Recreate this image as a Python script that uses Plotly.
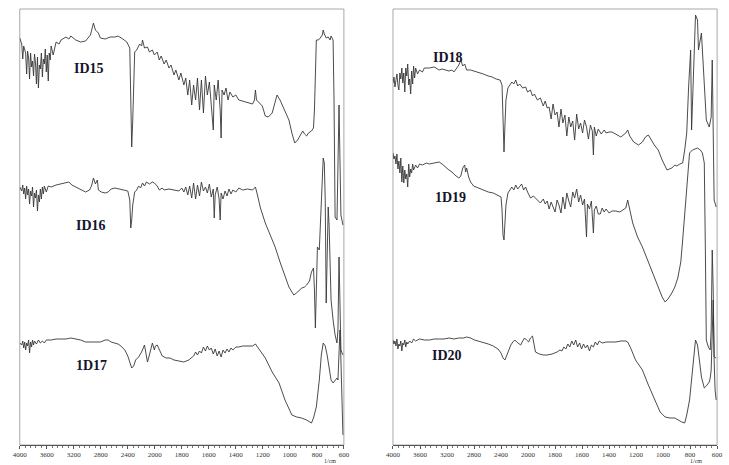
import numpy as np
import plotly.graph_objects as go

# ---------------- data (wavenumber in 1/cm, transmittance in arbitrary offset units) ----------------
tick_wn = [4000, 3600, 3200, 2800, 2400, 2000, 1800, 1600, 1400, 1200, 1000, 800, 600]
tick_labels = ["4000", "3600", "3200", "2800", "2400", "2000", "1800", "1600", "1400", "1200", "1000", "800", "600"]

id15_wn = [4000, 3971, 3956, 3942, 3913, 3898, 3884, 3869, 3855, 3840,
           3825, 3811, 3796, 3782, 3767, 3753, 3738, 3724, 3709, 3695,
           3680, 3665, 3651, 3636, 3622, 3607, 3593, 3578, 3564, 3549,
           3535, 3505, 3462, 3418, 3389, 3345, 3316, 3273, 3244, 3171,
           3098, 3025, 2953, 2909, 2880, 2836, 2807, 2735, 2662, 2589,
           2545, 2473, 2415, 2371, 2356, 2342, 2327, 2313, 2298, 2269,
           2225, 2196, 2182, 2153, 2109, 2080, 2036, 2007, 1982, 1967,
           1953, 1931, 1916, 1895, 1880, 1858, 1844, 1822, 1807, 1785,
           1771, 1756, 1742, 1727, 1713, 1698, 1684, 1669, 1655, 1640,
           1625, 1611, 1596, 1582, 1567, 1560, 1545, 1531, 1516, 1509,
           1502, 1487, 1473, 1458, 1444, 1422, 1400, 1378, 1349, 1313,
           1276, 1262, 1255, 1247, 1225, 1204, 1182, 1160, 1131, 1109,
           1095, 1073, 1036, 1022, 1007, 985, 964, 942, 920, 905,
           891, 876, 862, 840, 825, 818, 804, 789, 775, 760,
           753, 745, 731, 716, 702, 695, 680, 673, 665, 651,
           636, 622, 607]
id15_t = [407, 401, 386, 399, 392, 371, 394, 387, 366, 392,
          378, 384, 369, 391, 382, 361, 388, 357, 380, 376,
          392, 368, 386, 381, 396, 373, 390, 364, 392, 385,
          399, 390, 403, 401, 405, 407, 408, 406, 409, 405,
          403, 404, 410, 422, 415, 412, 407, 406, 408, 408,
          409, 406, 403, 397, 355, 298, 325, 375, 393, 395,
          401, 399, 405, 397, 398, 393, 395, 390, 393, 385,
          389, 381, 385, 377, 380, 370, 375, 365, 372, 360,
          367, 350, 365, 340, 360, 345, 367, 335, 365, 332,
          369, 350, 363, 340, 315, 360, 345, 365, 335, 307,
          355, 350, 357, 345, 353, 348, 350, 345, 344, 342,
          341, 345, 355, 345, 342, 339, 329, 328, 332, 342,
          350, 345, 334, 331, 325, 312, 302, 305, 310, 314,
          311, 309, 312, 314, 317, 335, 405, 405, 407, 410,
          415, 411, 407, 408, 405, 409, 405, 345, 228, 225,
          340, 230, 220]

id16_wn = [4000, 3971, 3956, 3942, 3927, 3913, 3898, 3884, 3869, 3855,
           3840, 3825, 3811, 3796, 3782, 3767, 3753, 3738, 3724, 3709,
           3695, 3680, 3665, 3651, 3636, 3607, 3578, 3535, 3462, 3389,
           3316, 3273, 3229, 3171, 3098, 3025, 2967, 2938, 2909, 2880,
           2851, 2836, 2793, 2735, 2691, 2647, 2589, 2516, 2444, 2400,
           2371, 2356, 2342, 2327, 2298, 2269, 2240, 2211, 2182, 2153,
           2124, 2080, 2036, 2007, 1982, 1967, 1945, 1931, 1895, 1858,
           1822, 1800, 1785, 1771, 1756, 1742, 1727, 1713, 1698, 1684,
           1669, 1655, 1640, 1625, 1611, 1596, 1582, 1567, 1560, 1553,
           1538, 1524, 1516, 1509, 1495, 1480, 1465, 1451, 1436, 1422,
           1400, 1378, 1349, 1313, 1276, 1262, 1255, 1240, 1218, 1182,
           1145, 1109, 1073, 1036, 1007, 971, 942, 913, 891, 876,
           855, 840, 825, 818, 811, 804, 796, 782, 767, 753,
           745, 738, 731, 724, 716, 709, 702, 695, 680, 665,
           651, 644, 636, 629, 622, 607]
id16_t = [258, 254, 260, 251, 257, 246, 259, 250, 256, 241,
          254, 249, 258, 238, 252, 247, 255, 234, 250, 243,
          256, 246, 258, 251, 259, 253, 259, 258, 260, 261,
          262, 263, 260, 258, 256, 253, 255, 259, 267, 261,
          265, 255, 253, 252, 253, 256, 257, 256, 255, 254,
          245, 217, 225, 240, 253, 255, 259, 257, 262, 259,
          263, 261, 263, 262, 259, 255, 257, 255, 256, 255,
          254, 257, 253, 258, 250, 259, 247, 262, 246, 260,
          249, 263, 254, 258, 252, 261, 248, 256, 227, 250,
          258, 246, 225, 252, 246, 254, 249, 256, 251, 255,
          253, 257, 255, 256, 255, 257, 258, 250, 237, 222,
          210, 198, 183, 168, 158, 150, 153, 157, 158, 160,
          164, 173, 177, 155, 117, 155, 198, 195, 245, 287,
          282, 245, 142, 195, 238, 218, 185, 145, 125, 110,
          102, 115, 188, 145, 95, 90]

id17_wn = [4000, 3971, 3956, 3942, 3927, 3913, 3898, 3884, 3869, 3855,
           3840, 3825, 3811, 3796, 3782, 3753, 3724, 3695, 3665, 3636,
           3607, 3535, 3462, 3389, 3316, 3244, 3171, 3098, 3025, 2953,
           2880, 2807, 2735, 2691, 2647, 2589, 2545, 2502, 2444, 2400,
           2371, 2342, 2313, 2284, 2240, 2196, 2153, 2138, 2109, 2080,
           2051, 2036, 2007, 1996, 1982, 1967, 1945, 1916, 1887, 1858,
           1822, 1785, 1749, 1727, 1713, 1698, 1684, 1669, 1655, 1640,
           1625, 1611, 1596, 1582, 1567, 1553, 1538, 1524, 1509, 1495,
           1480, 1465, 1451, 1436, 1422, 1400, 1378, 1349, 1313, 1276,
           1255, 1240, 1218, 1182, 1131, 1080, 1036, 985, 949, 913,
           876, 840, 825, 804, 782, 767, 753, 738, 724, 709,
           695, 680, 665, 651, 644, 636, 629, 622, 615, 607]
id17_t = [102, 100, 104, 97, 103, 95, 102, 99, 105, 92,
          103, 98, 105, 100, 104, 101, 105, 102, 104, 102,
          105, 105, 106, 106, 106, 107, 106, 105, 103, 103,
          103, 103, 105, 105, 103, 102, 101, 99, 95, 89,
          83, 77, 79, 85, 88, 93, 100, 93, 83, 90,
          97, 102, 95, 99, 100, 95, 89, 87, 87, 85,
          84, 83, 85, 87, 89, 93, 90, 94, 92, 98,
          94, 99, 95, 97, 91, 96, 89, 94, 88, 95,
          92, 96, 93, 97, 95, 98, 98, 99, 99, 99,
          101, 98, 93, 87, 73, 62, 45, 30, 28, 27,
          25, 22, 27, 38, 65, 90, 102, 99, 90, 77,
          65, 62, 65, 67, 65, 100, 115, 85, 45, 10]

id18_wn = [4000, 3985, 3971, 3956, 3942, 3927, 3913, 3898, 3884, 3869,
           3855, 3840, 3825, 3811, 3796, 3782, 3767, 3753, 3738, 3724,
           3709, 3695, 3680, 3665, 3636, 3607, 3564, 3535, 3462, 3389,
           3316, 3273, 3215, 3171, 3127, 3098, 3055, 3025, 2996, 2967,
           2938, 2909, 2851, 2793, 2735, 2662, 2589, 2531, 2473, 2415,
           2385, 2371, 2356, 2342, 2327, 2298, 2269, 2240, 2211, 2182,
           2153, 2124, 2080, 2036, 2007, 1982, 1967, 1953, 1931, 1909,
           1887, 1873, 1858, 1844, 1829, 1815, 1800, 1785, 1771, 1756,
           1742, 1727, 1713, 1698, 1684, 1669, 1655, 1640, 1625, 1611,
           1596, 1582, 1567, 1553, 1538, 1524, 1516, 1509, 1495, 1480,
           1458, 1436, 1422, 1400, 1378, 1349, 1313, 1276, 1262, 1247,
           1218, 1182, 1153, 1131, 1109, 1087, 1065, 1036, 1007, 971,
           935, 913, 898, 876, 855, 840, 825, 811, 796, 789,
           775, 760, 745, 738, 716, 702, 680, 658, 644, 636,
           622, 607]
id18_t = [362, 368, 358, 366, 371, 360, 355, 372, 366, 377,
          362, 372, 353, 377, 369, 381, 360, 366, 351, 374,
          361, 379, 367, 377, 371, 375, 373, 377, 377, 378,
          375, 376, 375, 374, 375, 373, 377, 380, 385, 379,
          381, 375, 375, 374, 373, 371, 369, 368, 366, 365,
          360, 325, 293, 320, 345, 357, 360, 363, 361, 365,
          359, 361, 357, 358, 353, 355, 349, 351, 345, 347,
          339, 344, 337, 338, 326, 341, 330, 333, 318, 336,
          322, 330, 309, 328, 318, 324, 305, 331, 316, 322,
          312, 325, 318, 306, 320, 314, 290, 318, 309, 316,
          311, 315, 312, 313, 313, 311, 308, 312, 315, 309,
          303, 300, 303, 308, 310, 305, 300, 295, 285, 275,
          277, 280, 279, 281, 282, 295, 312, 358, 395, 315,
          362, 430, 425, 395, 412, 378, 325, 318, 328, 385,
          245, 238]

id19_wn = [4000, 3985, 3971, 3956, 3942, 3927, 3913, 3898, 3884, 3869,
           3855, 3840, 3825, 3811, 3796, 3782, 3767, 3753, 3738, 3724,
           3709, 3695, 3665, 3636, 3607, 3564, 3505, 3462, 3389, 3316,
           3273, 3229, 3171, 3127, 3084, 3025, 2996, 2967, 2938, 2924,
           2909, 2880, 2851, 2807, 2735, 2662, 2589, 2516, 2444, 2400,
           2385, 2371, 2356, 2342, 2327, 2298, 2269, 2240, 2211, 2182,
           2153, 2124, 2095, 2065, 2036, 2007, 1982, 1960, 1931, 1909,
           1887, 1873, 1858, 1844, 1829, 1815, 1800, 1785, 1771, 1756,
           1742, 1727, 1713, 1698, 1684, 1669, 1655, 1640, 1625, 1611,
           1596, 1582, 1567, 1560, 1545, 1531, 1516, 1509, 1495, 1480,
           1465, 1451, 1436, 1422, 1400, 1378, 1349, 1320, 1298, 1276,
           1262, 1247, 1225, 1189, 1153, 1109, 1073, 1036, 1007, 985,
           964, 935, 913, 891, 869, 855, 840, 825, 811, 804,
           782, 760, 745, 724, 709, 702, 695, 687, 680, 665,
           651, 644, 636, 629, 622, 607]
id19_t = [292, 286, 289, 281, 291, 276, 284, 272, 287, 263,
          279, 262, 275, 266, 271, 258, 281, 268, 276, 272,
          281, 275, 280, 277, 281, 280, 282, 281, 282, 283,
          281, 278, 275, 273, 270, 267, 269, 277, 280, 273,
          277, 268, 263, 259, 257, 255, 253, 252, 250, 248,
          235, 210, 205, 220, 240, 252, 255, 258, 255, 260,
          256, 259, 261, 255, 258, 253, 247, 249, 245, 242,
          246, 241, 244, 236, 243, 238, 233, 245, 240, 232,
          248, 236, 252, 244, 238, 253, 247, 256, 243, 250,
          240, 246, 208, 241, 236, 244, 212, 235, 239, 231,
          231, 237, 233, 236, 232, 234, 234, 233, 235, 237,
          245, 235, 222, 208, 198, 183, 170, 158, 148, 143,
          146, 152, 158, 167, 183, 205, 230, 255, 280, 292,
          295, 296, 297, 295, 292, 287, 282, 195, 105, 98,
          95, 115, 195, 155, 88, 87]

id20_wn = [4000, 3985, 3971, 3956, 3942, 3927, 3913, 3898, 3884, 3869,
           3855, 3840, 3825, 3811, 3796, 3782, 3753, 3724, 3695, 3665,
           3636, 3607, 3535, 3462, 3389, 3316, 3244, 3171, 3098, 3025,
           2953, 2909, 2851, 2793, 2735, 2662, 2589, 2516, 2444, 2400,
           2371, 2342, 2313, 2284, 2255, 2225, 2196, 2167, 2138, 2109,
           2080, 2051, 2022, 1996, 1982, 1967, 1945, 1916, 1887, 1858,
           1822, 1785, 1764, 1749, 1735, 1720, 1705, 1691, 1676, 1662,
           1647, 1633, 1618, 1604, 1589, 1575, 1560, 1545, 1531, 1516,
           1502, 1487, 1473, 1451, 1422, 1385, 1349, 1313, 1276, 1262,
           1240, 1204, 1153, 1109, 1058, 1022, 985, 949, 913, 891,
           862, 840, 825, 804, 789, 775, 760, 745, 731, 716,
           695, 680, 658, 651, 644, 636, 629, 622, 615, 607]
id20_t = [105, 101, 104, 99, 106, 96, 101, 99, 104, 94,
          102, 100, 105, 98, 103, 101, 104, 102, 106, 104,
          105, 106, 105, 105, 106, 106, 106, 107, 106, 107,
          107, 108, 107, 105, 104, 103, 101, 99, 96, 92,
          87, 85, 90, 97, 100, 103, 105, 103, 101, 100,
          104, 107, 105, 103, 107, 109, 93, 91, 90, 90,
          91, 93, 95, 94, 98, 96, 101, 98, 104, 100,
          105, 98, 102, 96, 101, 97, 100, 94, 100, 98,
          103, 100, 104, 102, 103, 103, 103, 104, 104, 103,
          97, 85, 75, 60, 45, 33, 28, 27, 27, 25,
          23, 22, 30, 45, 65, 90, 105, 100, 85, 68,
          57, 59, 63, 67, 75, 112, 145, 85, 55, 45]

sample_labels = ["ID15", "ID16", "1D17", "ID18", "1D19", "ID20"]
label_wn = [2970, 2950, 2940, 3185, 3155, 3200]
label_t = [377, 220, 80, 388, 248, 90]


# ---------------- axis scale: Shimadzu style, 4000-2000 at half scale ----------------
def wn_to_pos(wn):
    wn = np.asarray(wn, dtype=float)
    return np.where(wn >= 2000, (4000.0 - wn) / 400.0, 5.0 + (2000.0 - wn) / 200.0)


W, H = 729, 465
LINE = "#383838"
serif = "Liberation Serif, Times New Roman, serif"

fig = go.Figure()

panels = [
    ("x", "y", [(id15_wn, id15_t), (id16_wn, id16_t), (id17_wn, id17_t)], sample_labels[:3], label_wn[:3], label_t[:3]),
    ("x2", "y2", [(id18_wn, id18_t), (id19_wn, id19_t), (id20_wn, id20_t)], sample_labels[3:], label_wn[3:], label_t[3:]),
]

for xa, ya, series, labs, lwn, lt in panels:
    for wn, t in series:
        assert len(wn) == len(t), (len(wn), len(t))
        fig.add_trace(go.Scatter(x=wn_to_pos(wn), y=t, mode="lines",
                                 line=dict(color=LINE, width=0.9),
                                 xaxis=xa, yaxis=ya, showlegend=False, hoverinfo="skip"))
    for lab, w, t in zip(labs, lwn, lt):
        fig.add_annotation(x=float(wn_to_pos([w])[0]), y=t, xref=xa, yref=ya, text="<b>" + lab + "</b>",
                           showarrow=False, font=dict(family=serif, size=14, color="#14142a"))
    # frame box
    fig.add_shape(type="rect", xref=xa + " domain", yref=ya + " domain", x0=0, x1=1, y0=0, y1=1,
                  line=dict(color="#a8a8a8", width=1), layer="below")

ydom = [1 - 445 / H, 1 - 9 / H]
axis_common = dict(
    range=[0, 12], tickmode="array", tickvals=list(wn_to_pos(tick_wn)), ticktext=tick_labels,
    showgrid=False, zeroline=False, showline=True, linecolor="#555555", linewidth=1,
    ticks="outside", ticklen=3, tickcolor="#555555", tickwidth=1,
    tickfont=dict(family=serif, size=7, color="#333333"),
    minor=dict(tick0=0, dtick=0.2, ticks="outside", ticklen=2, tickcolor="#777777"),
    fixedrange=True,
)
yaxis_common = dict(range=[0, 436], showgrid=False, zeroline=False, showticklabels=False,
                    showline=False, ticks="", domain=ydom, fixedrange=True)

fig.update_layout(
    width=W, height=H,
    margin=dict(l=0, r=0, t=0, b=0),
    paper_bgcolor="white", plot_bgcolor="white",
    xaxis=dict(domain=[13 / W, 343 / W], anchor="y", **axis_common),
    xaxis2=dict(domain=[393 / W, 723 / W], anchor="y2", **axis_common),
    yaxis=dict(anchor="x", **yaxis_common),
    yaxis2=dict(anchor="x2", **yaxis_common),
)

for xc in [329, 709]:
    fig.add_annotation(x=xc / W, y=0, xref="paper", yref="paper", yanchor="bottom", text="1/cm",
                       showarrow=False, borderpad=0, font=dict(family=serif, size=6, color="#333333"))

fig.write_html("out.html")
